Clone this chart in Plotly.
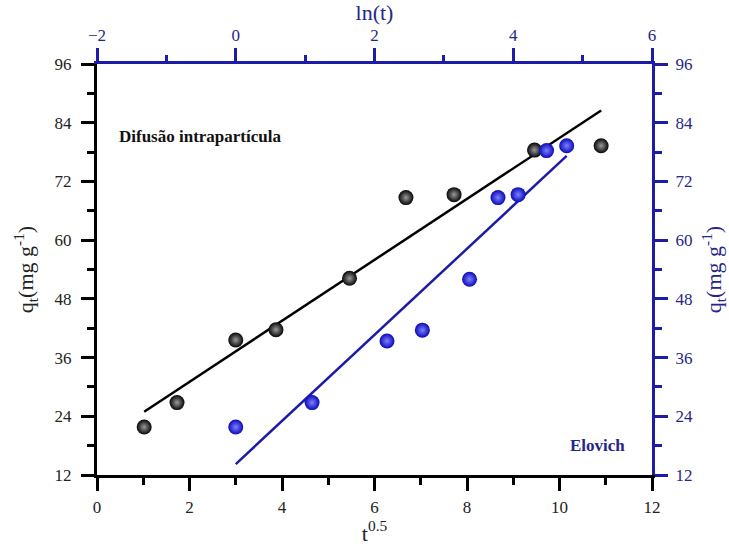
import numpy as np
import plotly.graph_objects as go

# Data
sqrt_t = [1.02, 1.73, 3.0, 3.87, 5.46, 6.68, 7.72, 9.46, 10.9]
q_intra = [21.8, 26.8, 39.6, 41.7, 52.2, 68.7, 69.3, 78.4, 79.3]
ln_t = [0.0, 1.10, 2.18, 2.69, 3.37, 3.78, 4.07, 4.48, 4.77]
q_elov = [21.8, 26.8, 39.4, 41.6, 52.0, 68.7, 69.3, 78.3, 79.3]

x_ticks = [0, 2, 4, 6, 8, 10, 12]
x2_ticks = [-2, 0, 2, 4, 6]
y_ticks = [12, 24, 36, 48, 60, 72, 84, 96]

BLUE = "#1c1ca6"
BLUE_TXT = "#26268a"
FONT = "Liberation Serif"

# linear fits
p1 = np.polyfit(sqrt_t, q_intra, 1)
p2 = np.polyfit(ln_t, q_elov, 1)
fx1 = np.array([min(sqrt_t), max(sqrt_t)])
fx2 = np.array([min(ln_t), max(ln_t)])

fig = go.Figure()
fig.add_trace(go.Scatter(x=fx1, y=np.polyval(p1, fx1), mode="lines",
                         line=dict(color="black", width=2.5), xaxis="x", yaxis="y",
                         showlegend=False, hoverinfo="skip"))
fig.add_trace(go.Scatter(x=fx2, y=np.polyval(p2, fx2), mode="lines",
                         line=dict(color=BLUE, width=2.5), xaxis="x2", yaxis="y2",
                         showlegend=False, hoverinfo="skip"))
fig.add_trace(go.Scatter(x=sqrt_t, y=q_intra, mode="markers",
                         marker=dict(size=15, color="#050505",
                                     gradient=dict(type="radial", color="#9a9a9a"),
                                     line=dict(width=0)),
                         xaxis="x", yaxis="y", showlegend=False))
fig.add_trace(go.Scatter(x=ln_t, y=q_elov, mode="markers",
                         marker=dict(size=15, color="#0a0ab8",
                                     gradient=dict(type="radial", color="#7f7fff"),
                                     line=dict(width=0)),
                         xaxis="x2", yaxis="y2", showlegend=False))

common = dict(showgrid=False, zeroline=False, ticks="outside", linewidth=3, tickwidth=3,
              ticklen=13, showline=True, automargin=False)

fig.update_layout(
    width=729, height=546,
    margin=dict(l=97, r=77, t=64, b=71),
    plot_bgcolor="white", paper_bgcolor="white",
    font=dict(family=FONT, size=17, color="#222"),
    xaxis=dict(range=[0, 12], tickvals=x_ticks, linecolor="black", tickcolor="black",
               minor=dict(dtick=1, ticklen=7, tickwidth=3, tickcolor="black", ticks="outside"),
               tickfont=dict(family=FONT, size=17, color="#222"), ticklabelstandoff=2,
               title=dict(text="t<sup>0.5</sup>", font=dict(family=FONT, size=22, color="#222"), standoff=9),
               **common),
    yaxis=dict(range=[12, 96], tickvals=y_ticks, linecolor="black", tickcolor="black",
               minor=dict(dtick=6, ticklen=7, tickwidth=3, tickcolor="black", ticks="outside"),
               tickfont=dict(family=FONT, size=17, color="#222"), ticklabelstandoff=6,
               title=dict(text="q<sub>t</sub>(mg g<sup>-1</sup>)", font=dict(family=FONT, size=22, color="#222"), standoff=15),
               **common),
    xaxis2=dict(range=[-2, 6], tickvals=x2_ticks, overlaying="x", side="top", anchor="y2",
                linecolor=BLUE, tickcolor=BLUE,
                minor=dict(dtick=1, ticklen=6, tickwidth=3, tickcolor=BLUE, ticks="outside"),
                tickfont=dict(family=FONT, size=17, color=BLUE_TXT),
                title=dict(text="ln(t)", font=dict(family=FONT, size=22, color=BLUE_TXT), standoff=2),
                **common),
    yaxis2=dict(range=[12, 96], tickvals=y_ticks, overlaying="y", side="right", anchor="x2",
                linecolor=BLUE, tickcolor=BLUE,
                minor=dict(dtick=6, ticklen=7, tickwidth=3, tickcolor=BLUE, ticks="outside"),
                tickfont=dict(family=FONT, size=17, color=BLUE_TXT), ticklabelstandoff=4,
                title=dict(text="q<sub>t</sub>(mg g<sup>-1</sup>)", font=dict(family=FONT, size=22, color=BLUE_TXT), standoff=18),
                **common),
    annotations=[
        dict(text="<b>Difusão intrapartícula</b>", x=0.43, y=81.1, xref="x", yref="y",
             xanchor="left", yanchor="middle", showarrow=False,
             font=dict(family=FONT, size=17, color="#111")),
        dict(text="<b>Elovich</b>", x=10.18, y=18.1, xref="x", yref="y",
             xanchor="left", yanchor="middle", showarrow=False,
             font=dict(family=FONT, size=17, color=BLUE_TXT)),
    ],
)

fig.write_html("out.html")
